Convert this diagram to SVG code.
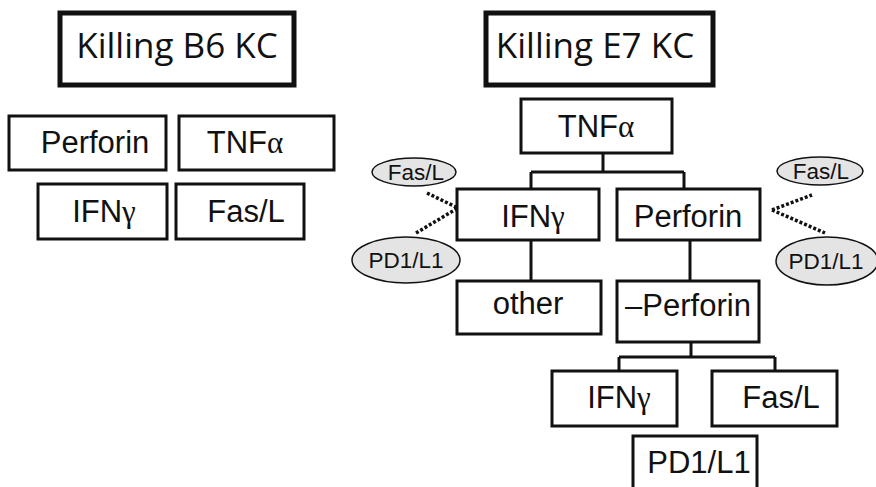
<svg xmlns="http://www.w3.org/2000/svg" width="876" height="487" viewBox="0 0 876 487">
<style>
.box{fill:#fff;stroke:#111;stroke-width:3}
.title{fill:#fff;stroke:#111;stroke-width:5}
.t{font-family:"Liberation Sans",Arial,sans-serif;font-size:31px;fill:#111;text-anchor:middle}
.tt{font-family:"Open Sans","Noto Sans",sans-serif;font-size:35px;fill:#111;text-anchor:middle}
.g{font-family:"Liberation Serif","Times New Roman",serif}
.ell{fill:#e4e4e4;stroke:#111;stroke-width:1.5}
.et{font-family:"Liberation Sans",Arial,sans-serif;font-size:22.5px;fill:#111;text-anchor:middle}
.ln{fill:none;stroke:#111;stroke-width:3}
.dot{fill:none;stroke:#111;stroke-width:3.5;stroke-dasharray:3 2}
</style>
<rect width="876" height="487" fill="#fff"/>
<g id="connectors">
<path class="ln" d="M603,153 V172 M531,172 H684 M531,172 V189 M684,172 V189"/>
<path class="ln" d="M531,240 V281"/>
<path class="ln" d="M690,240 V281"/>
<path class="ln" d="M691,342 V357 M619,357 H775 M619,357 V371 M775,357 V371"/>
<path class="dot" d="M427,193 L458,208 M416,233 L458,208"/>
<path class="dot" d="M772,210 L812,195 M772,210 L825,233"/>
</g>
<g id="title-b6"><rect class="title" x="60" y="13" width="234" height="72"/><text class="tt" x="177" y="58">Killing B6 KC</text></g>
<g id="b6-perforin"><rect class="box" x="9" y="116" width="157" height="54"/><text class="t" x="95" y="153">Perforin</text></g>
<g id="b6-tnfa"><rect class="box" x="179" y="116" width="155" height="54"/><text class="t" x="245" y="153">TNF<tspan class="g">α</tspan></text></g>
<g id="b6-ifng"><rect class="box" x="38" y="184" width="129" height="55"/><text class="t" x="104" y="222">IFN<tspan class="g">γ</tspan></text></g>
<g id="b6-fasl"><rect class="box" x="176" y="184" width="128" height="55"/><text class="t" x="246" y="222">Fas/L</text></g>
<g id="title-e7"><rect class="title" x="486" y="13" width="227" height="72"/><text class="tt" x="595" y="58">Killing E7 KC</text></g>
<g id="e7-tnfa"><rect class="box" x="521" y="99" width="151" height="54"/><text class="t" x="596" y="137">TNF<tspan class="g">α</tspan></text></g>
<g id="e7-ifng"><rect class="box" x="457" y="189" width="142" height="51"/><text class="t" x="533" y="227">IFN<tspan class="g">γ</tspan></text></g>
<g id="e7-perforin"><rect class="box" x="617" y="189" width="143" height="51"/><text class="t" x="688" y="227">Perforin</text></g>
<g id="e7-other"><rect class="box" x="457" y="281" width="144" height="53"/><text class="t" x="528" y="314">other</text></g>
<g id="e7-noperforin"><rect class="box" x="617" y="281" width="142" height="61"/><text class="t" x="688" y="316">–Perforin</text></g>
<g id="e7-ifng2"><rect class="box" x="552" y="371" width="125" height="55"/><text class="t" x="619" y="408">IFN<tspan class="g">γ</tspan></text></g>
<g id="e7-fasl2"><rect class="box" x="712" y="371" width="125" height="55"/><text class="t" x="781" y="408">Fas/L</text></g>
<g id="e7-pd1"><rect class="box" x="633" y="436" width="124" height="60"/><text class="t" x="699" y="473">PD1/L1</text></g>
<g id="ell-fasl-left"><ellipse class="ell" cx="414" cy="172" rx="42" ry="14"/><text class="et" x="416" y="180">Fas/L</text></g>
<g id="ell-pd1-left"><ellipse class="ell" cx="406" cy="260" rx="54" ry="23"/><text class="et" x="406" y="268">PD1/L1</text></g>
<g id="ell-fasl-right"><ellipse class="ell" cx="820" cy="171" rx="43" ry="14"/><text class="et" x="821" y="179">Fas/L</text></g>
<g id="ell-pd1-right"><ellipse class="ell" cx="827" cy="261" rx="51" ry="24"/><text class="et" x="826" y="269">PD1/L1</text></g>
</svg>
